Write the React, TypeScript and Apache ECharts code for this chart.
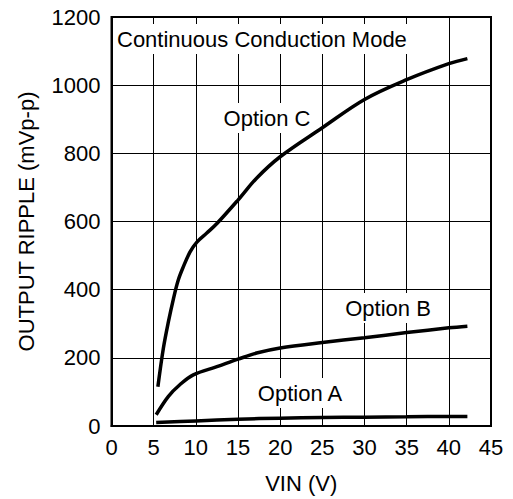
import React, { useEffect, useRef } from "react";
import * as echarts from "echarts";

const xTicks = [0, 5, 10, 15, 20, 25, 30, 35, 40, 45];
const yTicks = [0, 200, 400, 600, 800, 1000, 1200];

const optionCX = [5.5, 6.15, 6.75, 7.35, 7.9, 8.5, 9.3, 10.1, 11.3, 12.5, 15, 17.2, 20, 25, 30, 35, 40, 42.2];
const optionCY = [115, 228, 306, 374, 427, 466, 510, 539, 566, 594, 663, 727, 790, 875, 958, 1016, 1063, 1078];

const optionBX = [5.3, 6.75, 8.1, 9.7, 12.5, 15, 17.2, 20, 25, 30, 35, 40, 42.2];
const optionBY = [33, 87, 121, 150, 174, 196, 214, 229, 245, 259, 274, 288, 293];

const optionAX = [5.3, 10, 15, 20, 25, 30, 35, 40, 42.2];
const optionAY = [10, 15, 20, 23, 25, 26, 27, 28, 28];

const seriesNames = ["Option A", "Option B", "Option C"];
const FONT = "'Liberation Sans', Arial, Helvetica, sans-serif";
const FS = 22;

function pairs(xs: number[], ys: number[]) {
  return xs.map((x, i) => [x, ys[i]]);
}

export default function App() {
  const ref = useRef<HTMLDivElement>(null);
  useEffect(() => {
    if (!ref.current) return;
    const chart = echarts.init(ref.current, undefined, { renderer: "svg" });
    const lineSeries = (name: string, data: number[][]) => ({
      name,
      type: "line",
      data,
      smooth: 0.35,
      showSymbol: false,
      symbol: "none",
      lineStyle: { color: "#000", width: 3.5 },
      z: 3,
    });
    const labelText = (text: string, x: number, y: number, align: string) => ({
      type: "text",
      x,
      y,
      z: 1,
      style: {
        text,
        fill: "#000",
        font: `${FS}px ${FONT}`,
        align,
        verticalAlign: "middle",
        backgroundColor: "#fff",
        padding: [4, 3, 4, 3],
      },
    });
    chart.setOption({
      animation: false,
      backgroundColor: "#fff",
      grid: {
        left: 111.5,
        right: 22,
        top: 17,
        bottom: 71,
        show: true,
        borderColor: "#000",
        borderWidth: 2,
        containLabel: false,
      },
      xAxis: {
        type: "value",
        min: xTicks[0],
        max: xTicks[xTicks.length - 1],
        interval: 5,
        name: "VIN (V)",
        nameLocation: "middle",
        nameGap: 46,
        nameTextStyle: { color: "#000", fontSize: FS, fontFamily: FONT },
        axisLine: { show: true, lineStyle: { color: "#000", width: 2 } },
        axisTick: { show: false },
        axisLabel: { color: "#000", fontSize: FS, fontFamily: FONT, margin: 10, formatter: (v: number) => String(v) },
        splitLine: { show: true, lineStyle: { color: "#000", width: 1 } },
      },
      yAxis: {
        type: "value",
        min: yTicks[0],
        max: yTicks[yTicks.length - 1],
        interval: 200,
        name: "OUTPUT RIPPLE (mVp-p)",
        nameLocation: "middle",
        nameGap: 74,
        nameTextStyle: { color: "#000", fontSize: FS, fontFamily: FONT },
        axisLine: { show: true, lineStyle: { color: "#000", width: 2 } },
        axisTick: { show: false },
        axisLabel: { color: "#000", fontSize: FS, fontFamily: FONT, margin: 11, formatter: (v: number) => String(v) },
        splitLine: { show: true, lineStyle: { color: "#000", width: 1 } },
      },
      graphic: [
        labelText("Continuous Conduction Mode", 114, 39, "left"),
        labelText(seriesNames[2], 267, 118, "center"),
        labelText(seriesNames[1], 388, 308, "center"),
        labelText(seriesNames[0], 300, 393, "center"),
      ],
      series: [
        lineSeries(seriesNames[0], pairs(optionAX, optionAY)),
        lineSeries(seriesNames[1], pairs(optionBX, optionBY)),
        lineSeries(seriesNames[2], pairs(optionCX, optionCY)),
      ],
    });
    return () => chart.dispose();
  }, []);
  return (
    <div
      ref={ref}
      style={{ position: "absolute", left: 0, top: 0, width: 513, height: 499, background: "#fff" }}
    />
  );
}
